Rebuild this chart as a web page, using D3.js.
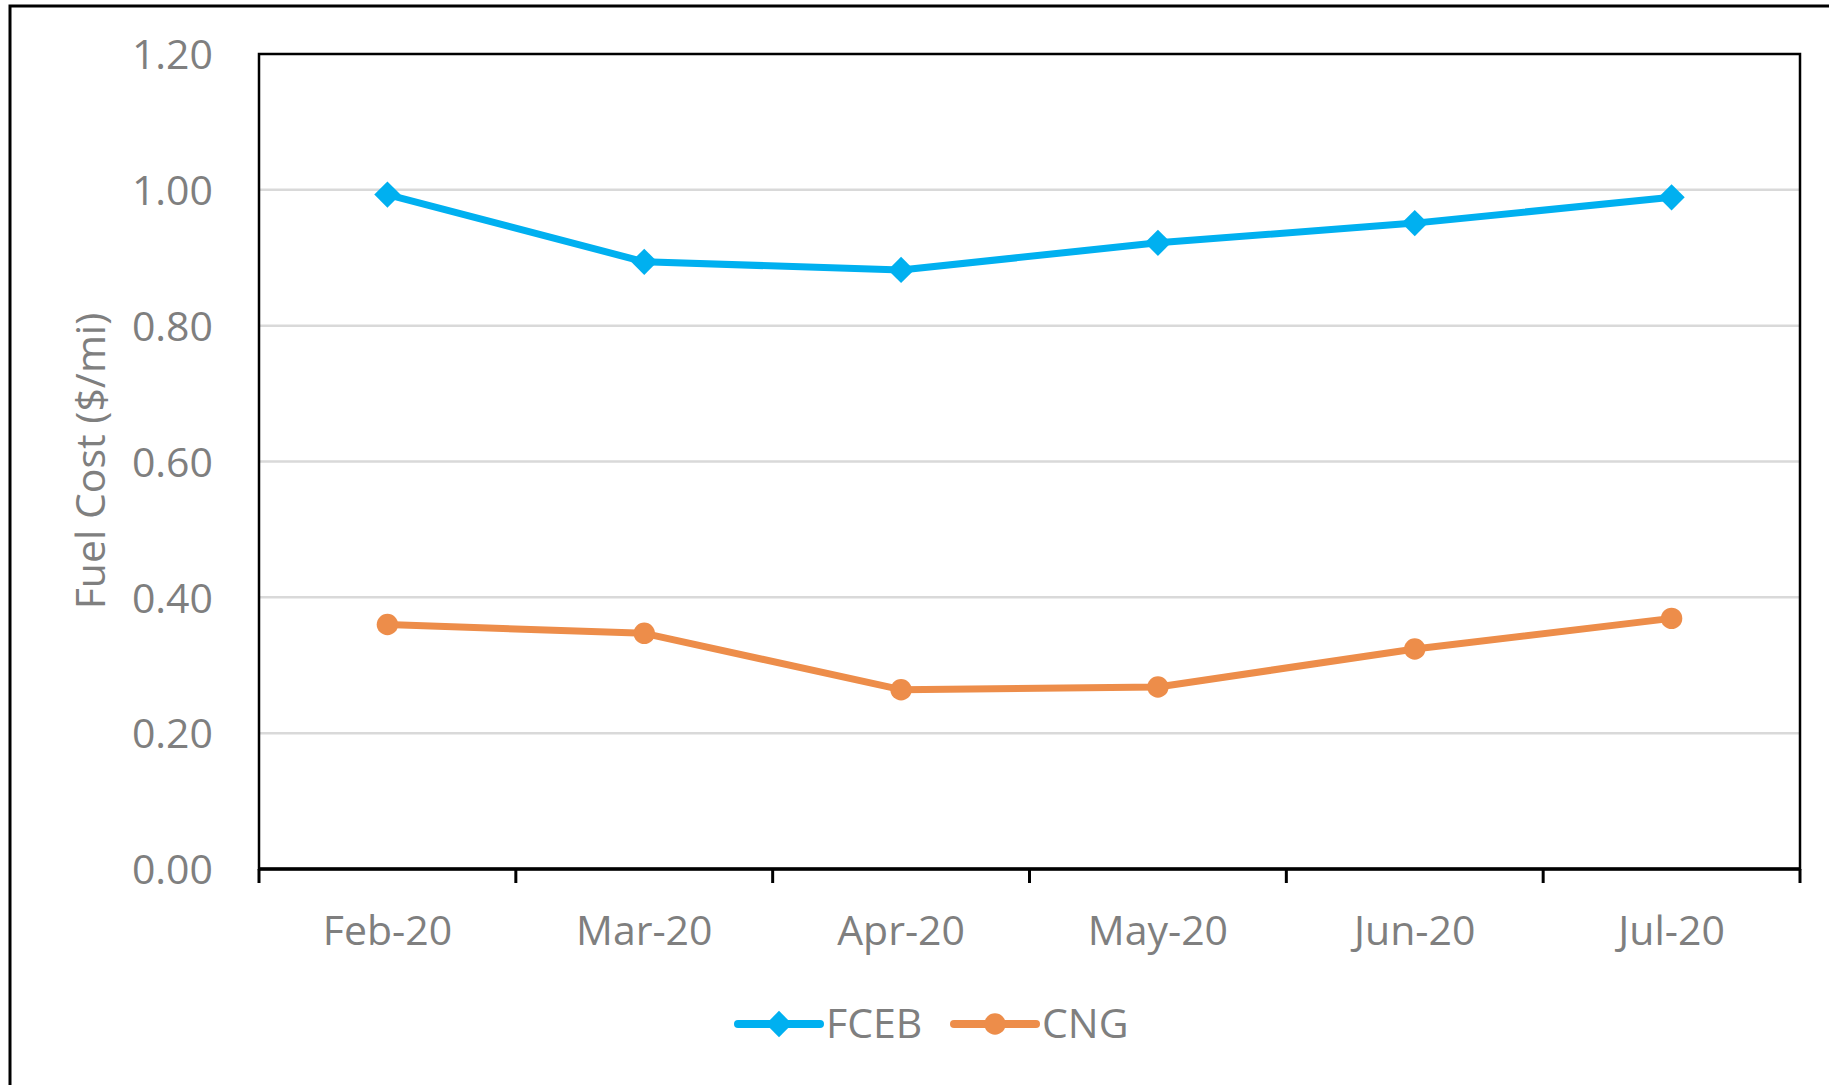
<!DOCTYPE html>
<html>
<head>
<meta charset="utf-8">
<script src="https://cdn.jsdelivr.net/npm/d3@7"></script>
<style>
  body { margin:0; background:#fff; overflow:hidden; }
  text { font-family: "Open Sans", sans-serif; fill:#7f7f7f; }
</style>
</head>
<body>
<div id="chart"></div>
<script>
const months = ['Feb-20','Mar-20','Apr-20','May-20','Jun-20','Jul-20']
const fceb = [0.993, 0.894, 0.882, 0.922, 0.951, 0.989]
const cng  = [0.360, 0.347, 0.264, 0.268, 0.324, 0.369]
const yTicks = [0, 0.2, 0.4, 0.6, 0.8, 1.0, 1.2]
const seriesNames = ['FCEB','CNG']
const seriesColors = ['#00b0f0','#ed8d4a']

let width = 1829, height = 1085,
    margin = { top:54, left:259, right:29, bottom:216 },
    innerWidth = width - margin.left - margin.right,
    innerHeight = height - margin.top - margin.bottom

let svg = d3.select("#chart").append("svg")
  .attr("width", width).attr("height", height)
  .style("display","block")

// outer chart frame (only left and top edges show in the crop)
svg.append("path")
  .attr("d",`M10,${height} L10,6 L${width},6`)
  .attr("fill","none").attr("stroke","#000").attr("stroke-width",3)

let g = svg.append("g").attr("transform",`translate(${margin.left},${margin.top})`)

let xScale = d3.scaleBand().domain(months).range([0,innerWidth])
let yScale = d3.scaleLinear().domain([0,1.2]).range([innerHeight,0])

// gridlines
g.selectAll(".grid")
  .data(yTicks.filter(d => d > 0 && d < 1.2))
  .enter().append("line")
  .attr("x1",0).attr("x2",innerWidth)
  .attr("y1",d=>yScale(d)).attr("y2",d=>yScale(d))
  .attr("stroke","#d9d9d9").attr("stroke-width",2.5)

// y axis labels
let yAxis = d3.axisLeft(yScale).tickValues(yTicks).tickFormat(d3.format(".2f")).tickSize(0).tickPadding(46)
let yGroup = g.append("g").call(yAxis)
yGroup.select(".domain").remove()
yGroup.selectAll("text").style("font-size","41px").attr("fill","#7f7f7f").attr("dy","0.36em")

// x axis labels
let xAxis = d3.axisBottom(xScale).tickSize(0).tickPadding(0)
let xGroup = g.append("g").attr("transform",`translate(0,${innerHeight})`).call(xAxis)
xGroup.select(".domain").remove()
xGroup.selectAll("text").style("font-size","41px").attr("fill","#7f7f7f").attr("y",76).attr("dy",0)

// plot border
g.append("rect")
  .attr("x",0).attr("y",0).attr("width",innerWidth).attr("height",innerHeight)
  .attr("fill","none").attr("stroke","#000").attr("stroke-width",2.5)
g.append("line")
  .attr("x1",0).attr("x2",innerWidth).attr("y1",innerHeight).attr("y2",innerHeight)
  .attr("stroke","#000").attr("stroke-width",3.5)

// category boundary ticks
let edges = months.map(d => xScale(d)).concat([innerWidth])
g.selectAll(".xtick")
  .data(edges)
  .enter().append("line")
  .attr("x1",d=>d).attr("x2",d=>d)
  .attr("y1",innerHeight).attr("y2",innerHeight+14)
  .attr("stroke","#000").attr("stroke-width",3)

let cx = d => xScale(d) + xScale.bandwidth()/2
let line = d3.line().x(d=>cx(d.m)).y(d=>yScale(d.v))

let diamond = d3.symbol().type(d3.symbolDiamond2).size(440)
let circle = d3.symbol().type(d3.symbolCircle).size(360)

let series = [fceb, cng].map((vals,i) => ({
  name: seriesNames[i], color: seriesColors[i],
  pts: months.map((m,j) => ({ m:m, v:vals[j] })),
  sym: i === 0 ? diamond : circle
}))

series.forEach(s => {
  g.append("path")
    .attr("d", line(s.pts))
    .attr("fill","none").attr("stroke",s.color)
    .attr("stroke-width",7).attr("stroke-linejoin","round")
  g.selectAll(null)
    .data(s.pts)
    .enter().append("path")
    .attr("d", s.sym())
    .attr("transform", d => `translate(${cx(d.m)},${yScale(d.v)})`)
    .attr("fill", s.color)
})

// y title
svg.append("text")
  .attr("transform","translate(91,461) rotate(-90)")
  .attr("text-anchor","middle").attr("dy","0.35em")
  .style("font-size","41px")
  .text("Fuel Cost ($/mi)")

// legend
let legendX = [738, 954]
let legend = svg.selectAll(".legend")
  .data(series)
  .enter().append("g")
  .attr("transform",(d,i)=>`translate(${legendX[i]},1024)`)
legend.append("line")
  .attr("x1",0).attr("x2",82).attr("y1",0).attr("y2",0)
  .attr("stroke",d=>d.color).attr("stroke-width",8).attr("stroke-linecap","round")
legend.append("path")
  .attr("d",d=>d.sym())
  .attr("transform","translate(41,0)")
  .attr("fill",d=>d.color)
legend.append("text")
  .attr("x",88).attr("y",14)
  .style("font-size","41px")
  .text(d=>d.name)
</script>
</body>
</html>
